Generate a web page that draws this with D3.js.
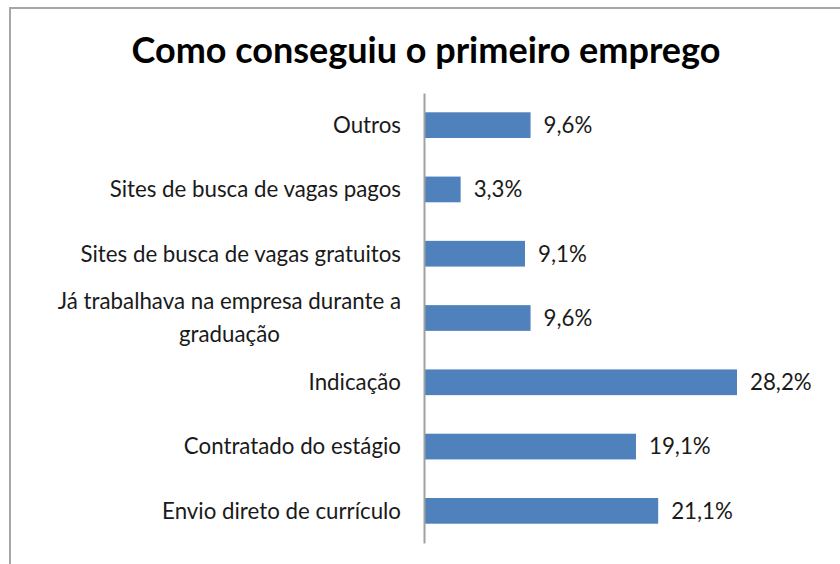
<!DOCTYPE html>
<html>
<head>
<meta charset="utf-8">
<script src="https://cdn.jsdelivr.net/npm/d3@7"></script>
<style>
  html, body { margin: 0; padding: 0; background: #fff; }
  svg { display: block; }
</style>
</head>
<body>
<svg id="chart" width="840" height="564"></svg>
<script>
const title = "Como conseguiu o primeiro emprego";
const categories = [
  ["Outros"],
  ["Sites de busca de vagas pagos"],
  ["Sites de busca de vagas gratuitos"],
  ["Já trabalhava na empresa durante a", "graduação"],
  ["Indicação"],
  ["Contratado do estágio"],
  ["Envio direto de currículo"]
];
const values = [9.6, 3.3, 9.1, 9.6, 28.2, 19.1, 21.1];
const valueLabels = ["9,6%", "3,3%", "9,1%", "9,6%", "28,2%", "19,1%", "21,1%"];

const font = "Lato, 'Open Sans', sans-serif";
const svg = d3.select("#chart");

// chart frame
svg.append("rect")
  .attr("x", 10).attr("y", 8).attr("width", 840).attr("height", 600)
  .attr("fill", "#fff").attr("stroke", "#a6a6a6").attr("stroke-width", 2);

const x0 = 424;
const x = d3.scaleLinear().domain([0, 28.2]).range([x0, 737]);
const keys = categories.map((c, i) => "c" + i);
const y = d3.scaleBand().domain(keys).range([93, 543]).paddingInner(0.6).paddingOuter(0.3);

// title
const t = svg.append("text")
  .attr("x", 426).attr("y", 63)
  .attr("text-anchor", "middle")
  .attr("font-family", font).attr("font-weight", "bold")
  .attr("font-size", 32).attr("fill", "#000")
  .text(title);
const tw = t.node().getComputedTextLength();
t.attr("font-size", 32 * 589 / tw);

// measure label font size
const probe = svg.append("text").attr("font-family", font).attr("font-size", 18).text("Envio direto de currículo");
const lfs = 18 * 239 / probe.node().getComputedTextLength();
probe.remove();

// bars
svg.selectAll("rect.bar").data(values).enter().append("rect")
  .attr("class", "bar")
  .attr("x", x(0))
  .attr("y", (d, i) => y(keys[i]))
  .attr("width", d => x(d) - x(0))
  .attr("height", y.bandwidth())
  .attr("fill", "#4f81bd");

// axis line
const axis = d3.axisLeft(y).tickSize(0).tickFormat("");
const ag = svg.append("g").attr("transform", `translate(${x0},0)`).call(axis);
ag.select(".domain").attr("stroke", "#a0a0a0").attr("stroke-width", 2);

// category labels
const labelRight = 401;
categories.forEach((lines, i) => {
  const cy = y(keys[i]) + y.bandwidth() / 2;
  const g = svg.append("text")
    .attr("font-family", font).attr("font-size", lfs).attr("fill", "#1a1a1a");
  if (lines.length === 1) {
    g.attr("x", labelRight).attr("y", cy).attr("dy", "0.35em")
      .attr("text-anchor", "end").text(lines[0]);
  } else {
    const lh = 33;
    const spans = lines.map((l, j) => g.append("tspan")
      .attr("y", cy + (j - (lines.length - 1) / 2) * lh).attr("dy", "0.35em").text(l));
    const w = d3.max(spans.map(s => s.node().getComputedTextLength()));
    const cx = labelRight - w / 2;
    spans.forEach(s => s.attr("x", cx));
    g.attr("text-anchor", "middle");
  }
});

// value labels
svg.selectAll("text.val").data(values).enter().append("text")
  .attr("class", "val")
  .attr("x", d => x(d) + 13)
  .attr("y", (d, i) => y(keys[i]) + y.bandwidth() / 2)
  .attr("dy", "0.35em")
  .attr("font-family", font).attr("font-size", lfs).attr("fill", "#1a1a1a")
  .text((d, i) => valueLabels[i]);
</script>
</body>
</html>
